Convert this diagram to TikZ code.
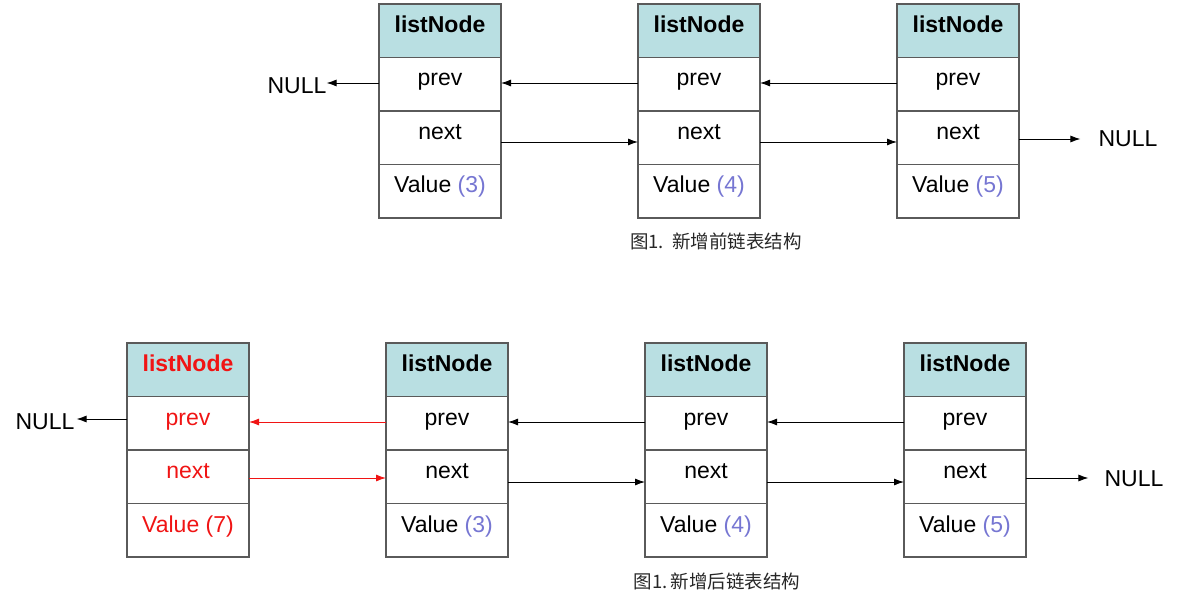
\documentclass[tikz,border=0pt]{standalone}
\usepackage{fontspec}
\setmainfont{Liberation Sans}
\newfontfamily\cjk{Noto Sans CJK SC}
\usetikzlibrary{arrows.meta}
\definecolor{hdr}{RGB}{185,223,226}
\definecolor{numc}{RGB}{118,118,210}
\definecolor{bord}{RGB}{90,90,90}
\definecolor{redc}{RGB}{240,20,20}
\tikzset{
  cell/.style={draw=bord, line width=1.2pt, minimum width=122pt, minimum height=53.5pt, inner sep=0pt, outer sep=0pt},
  hcell/.style={cell, fill=hdr},
  txt/.style={font=\fontsize{23}{23}\selectfont, inner sep=0pt},
  celltxt/.style={txt, text height=16pt, text depth=5pt},
  arr/.style={line width=0.9pt, -{Latex[length=10pt,width=7pt]}},
  redarr/.style={arr, draw=redc, -{Latex[length=10pt,width=7pt,fill=redc]}, color=redc},
  captext/.style={font=\cjk\fontsize{18.5}{18.5}\selectfont, text=black!85, inner sep=0pt}
}
\newcommand\mklistnode[5]{%
  \node[hcell] (#1h) at (#2,#3+26.75) {};
  \node[cell]  (#1p) at (#2,#3+80.25) {};
  \node[cell]  (#1n) at (#2,#3+133.75) {};
  \node[cell]  (#1v) at (#2,#3+187.25) {};
  \node[celltxt,text=#5] (#1ht) at ([yshift=3.75pt]#1h.center) {\bfseries listNode};
  \node[celltxt,text=#5] (#1pt) at ([yshift=3.75pt]#1p.center) {prev};
  \node[celltxt,text=#5] (#1nt) at ([yshift=3.75pt]#1n.center) {next};
  \node[celltxt,text=#5] (#1vt) at ([yshift=3.75pt]#1v.center) {#4};
}
\begin{document}
\begin{tikzpicture}[x=1pt,y=-1pt]
\useasboundingbox (0,0) rectangle (1181,604);
% top row
\mklistnode{a1}{440}{4}{Value \textcolor{numc}{(3)}}{black}
\mklistnode{a2}{699}{4}{Value \textcolor{numc}{(4)}}{black}
\mklistnode{a3}{958}{4}{Value \textcolor{numc}{(5)}}{black}
\node[txt] (tnl) at (297,86) {NULL};
\node[txt] (tnr) at (1128,139) {NULL};
\draw[arr] (a1p.west |- 0,83) -- (tnl.east |- 0,83);
\draw[arr] (a2p.west |- 0,83) -- (a1p.east |- 0,83);
\draw[arr] (a3p.west |- 0,83) -- (a2p.east |- 0,83);
\draw[arr] (a1n.east |- 0,142) -- (a2n.west |- 0,142);
\draw[arr] (a2n.east |- 0,142) -- (a3n.west |- 0,142);
\draw[arr] (a3n.east |- 0,139) -- ([xshift=-18pt]tnr.west |- 0,139);
\node[captext] (cap1) at (716,241) {图1.\ \ 新增前链表结构};
% bottom row
\mklistnode{b0}{188}{343}{Value (7)}{redc}
\mklistnode{b1}{447}{343}{Value \textcolor{numc}{(3)}}{black}
\mklistnode{b2}{706}{343}{Value \textcolor{numc}{(4)}}{black}
\mklistnode{b3}{965}{343}{Value \textcolor{numc}{(5)}}{black}
\node[txt] (bnl) at (45,422) {NULL};
\node[txt] (bnr) at (1134,479) {NULL};
\draw[arr] (b0p.west |- 0,419) -- ([xshift=2pt]bnl.east |- 0,419);
\draw[redarr] (b1p.west |- 0,422) -- (b0p.east |- 0,422);
\draw[arr] (b2p.west |- 0,422) -- (b1p.east |- 0,422);
\draw[arr] (b3p.west |- 0,422) -- (b2p.east |- 0,422);
\draw[redarr] (b0n.east |- 0,478) -- (b1n.west |- 0,478);
\draw[arr] (b1n.east |- 0,482) -- (b2n.west |- 0,482);
\draw[arr] (b2n.east |- 0,482) -- (b3n.west |- 0,482);
\draw[arr] (b3n.east |- 0,478) -- ([xshift=-16pt]bnr.west |- 0,478);
\node[captext] (cap2) at (717,581) {图1.\,新增后链表结构};
\end{tikzpicture}
\end{document}
